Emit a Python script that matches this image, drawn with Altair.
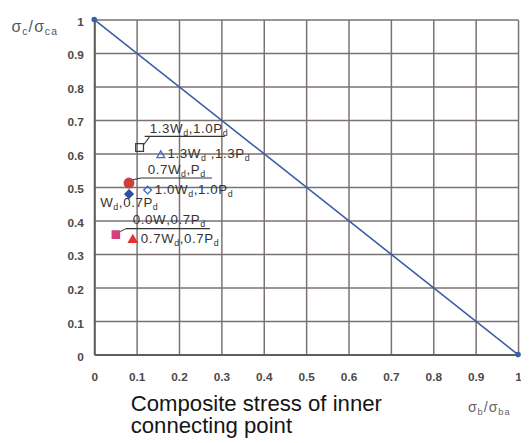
import altair as alt
import pandas as pd

# ---------------- data ----------------
tick_vals = [0, 0.1, 0.2, 0.3, 0.4, 0.5, 0.6, 0.7, 0.8, 0.9, 1.0]

line_x = [0.0, 1.0]
line_y = [1.0, 0.0]

series = ["1.3Wd,1.0Pd", "1.3Wd,1.3Pd", "0.7Wd,Pd", "1.0Wd,1.0Pd",
          "Wd,0.7Pd", "0.0W,0.7Pd", "0.7Wd,0.7Pd"]
sb = [0.107, 0.157, 0.082, 0.126, 0.082, 0.051, 0.091]
sc = [0.618, 0.598, 0.512, 0.491, 0.479, 0.358, 0.346]

# label text ("_" marks the next character as a subscript) and anchors
labels = ["1.3W_d,1.0P_d", "1.3W_d ,1.3P_d", "0.7W_d,P_d", "1.0W_d,1.0P_d",
          "W_d,0.7P_d", "0.0W,0.7P_d", "0.7W_d,0.7P_d"]
label_x = [0.131, 0.173, 0.126, 0.143, 0.014, 0.091, 0.110]
label_y = [0.660, 0.586, 0.538, 0.479, 0.441, 0.391, 0.334]

# underlines and leader lines of the annotations
ul_x1 = [0.119, 0.110, 0.075]
ul_x2 = [0.308, 0.278, 0.273]
ul_y = [0.651, 0.527, 0.376]
ld_x1 = [0.117, 0.089, 0.061]
ld_y1 = [0.627, 0.521, 0.367]
ld_x2 = [0.130, 0.110, 0.075]
ld_y2 = [0.649, 0.527, 0.376]

y_title = "σ_c/σ_c_a"
x_title = "σ_b/σ_b_a"
main_title = ["Composite stress of inner", "connecting point"]

# ---------------- styles ----------------
PLOT_W, PLOT_H = 430, 340
FONT = "Liberation Sans"

style = {
    "1.3Wd,1.0Pd": ("square", "transparent", "#3a3a3a", 62),
    "1.3Wd,1.3Pd": ("triangle-up", "transparent", "#4466c4", 62),
    "0.7Wd,Pd": ("circle", "#cc3f3a", "#cc3f3a", 95),
    "1.0Wd,1.0Pd": ("diamond", "transparent", "#3a62c2", 62),
    "Wd,0.7Pd": ("diamond", "#2b4ea6", "#2b4ea6", 75),
    "0.0W,0.7Pd": ("square", "#d4407a", "#d4407a", 55),
    "0.7Wd,0.7Pd": ("triangle-up", "#e5322c", "#e5322c", 75),
}

WIDTH = {c: 0.556 for c in "0123456789"}
WIDTH.update({".": 0.278, ",": 0.278, " ": 0.278, "W": 0.944, "P": 0.667,
              "d": 0.556, "σ": 0.60, "/": 0.278, "c": 0.5, "a": 0.556, "b": 0.556})


def layout(markup, x0, y0, size, sub_size, track, sub_dy, color):
    rows, cur, i = [], 0.0, 0
    while i < len(markup):
        sub = markup[i] == "_"
        if sub:
            i += 1
        ch = markup[i]
        fs = sub_size if sub else size
        rows.append({"x": x0 + cur / PLOT_W,
                     "y": y0 - (sub_dy if sub else 0) / PLOT_H,
                     "ch": ch, "fs": fs, "col": color})
        cur += WIDTH.get(ch, 0.55) * fs + track
        i += 1
    return rows


text_rows = []
for m, lx, ly in zip(labels, label_x, label_y):
    text_rows += layout(m, lx, ly, 13.5, 9, 0.6, 3, "#333333")
text_rows += layout(y_title, -0.195, 0.962, 16, 10.5, 1.2, 3, "#555555")
text_rows += layout(x_title, 0.882, -0.170, 14.5, 9.5, 1.0, 3, "#666666")
text_df = pd.DataFrame(text_rows)

pts = pd.DataFrame({
    "sb": sb, "sc": sc, "name": series,
    "shape": [style[s][0] for s in series],
    "fill": [style[s][1] for s in series],
    "stroke": [style[s][2] for s in series],
    "size": [style[s][3] for s in series],
})

line_df = pd.DataFrame({"sb": line_x, "sc": line_y})
ul_df = pd.DataFrame({"x1": ul_x1, "x2": ul_x2, "y": ul_y})
ld_df = pd.DataFrame({"x1": ld_x1, "y1": ld_y1, "x2": ld_x2, "y2": ld_y2})

xscale = alt.Scale(domain=[0, 1], nice=False, zero=False)
yscale = alt.Scale(domain=[0, 1], nice=False, zero=False)

lab_expr = "datum.value == 0 ? '0' : datum.value == 1 ? '1' : format(datum.value, '.1f')"
common_axis = dict(values=tick_vals, grid=True, gridColor="#7a7272", gridWidth=1.5,
                   gridOpacity=1, ticks=False, domain=True,
                   domainColor="#5e5e5e", domainWidth=2, labelFont=FONT,
                   labelFontSize=12, labelFontWeight="bold", labelColor="#4a4a4a",
                   labelFlush=False, labelOverlap=False, title=None, labelExpr=lab_expr)
xaxis = alt.Axis(labelPadding=17, **common_axis)
yaxis = alt.Axis(labelPadding=11, labelOffset=2, **common_axis)

X = lambda f: alt.X(f, type="quantitative", scale=xscale, axis=xaxis)
Y = lambda f: alt.Y(f, type="quantitative", scale=yscale, axis=yaxis)

diag = alt.Chart(line_df).mark_line(color="#3a5da8", strokeWidth=1.6).encode(
    x=X("sb"), y=Y("sc"))
ends = alt.Chart(line_df).mark_circle(color="#3a5da8", size=32, opacity=1).encode(
    x=X("sb"), y=Y("sc"))

under = alt.Chart(ul_df).mark_rule(color="#333333", strokeWidth=1.2).encode(
    x=X("x1"), x2=alt.X2("x2"), y=Y("y"))
leader = alt.Chart(ld_df).mark_rule(color="#333333", strokeWidth=1.1).encode(
    x=X("x1"), y=Y("y1"), x2=alt.X2("x2"), y2=alt.Y2("y2"))

points = alt.Chart(pts).mark_point(filled=True, strokeWidth=1.3, opacity=1).encode(
    x=X("sb"), y=Y("sc"),
    shape=alt.Shape("shape:N", scale=None),
    fill=alt.Fill("fill:N", scale=None),
    stroke=alt.Stroke("stroke:N", scale=None),
    size=alt.Size("size:Q", scale=None),
)

texts = alt.Chart(text_df).mark_text(align="left", baseline="alphabetic", font=FONT).encode(
    x=X("x"), y=Y("y"), text="ch:N",
    size=alt.Size("fs:Q", scale=None),
    color=alt.Color("col:N", scale=None),
)

title = alt.Chart(pd.DataFrame({"a": [0]})).mark_text(
    text=main_title, align="left", baseline="alphabetic", font=FONT,
    fontSize=22.5, lineHeight=23, color="#151515"
).encode(x=alt.value(37), y=alt.value(397))

chart = alt.layer(diag, ends, under, leader, points, texts, title).properties(
    width=PLOT_W, height=PLOT_H,
    autosize=alt.AutoSizeParams(type="none"),
    padding={"left": 87.5, "top": 8.5, "right": 3, "bottom": 86},
    background="white",
).configure_view(stroke=None)

chart.save("out.html", embed_options={"renderer": "svg", "actions": False})
